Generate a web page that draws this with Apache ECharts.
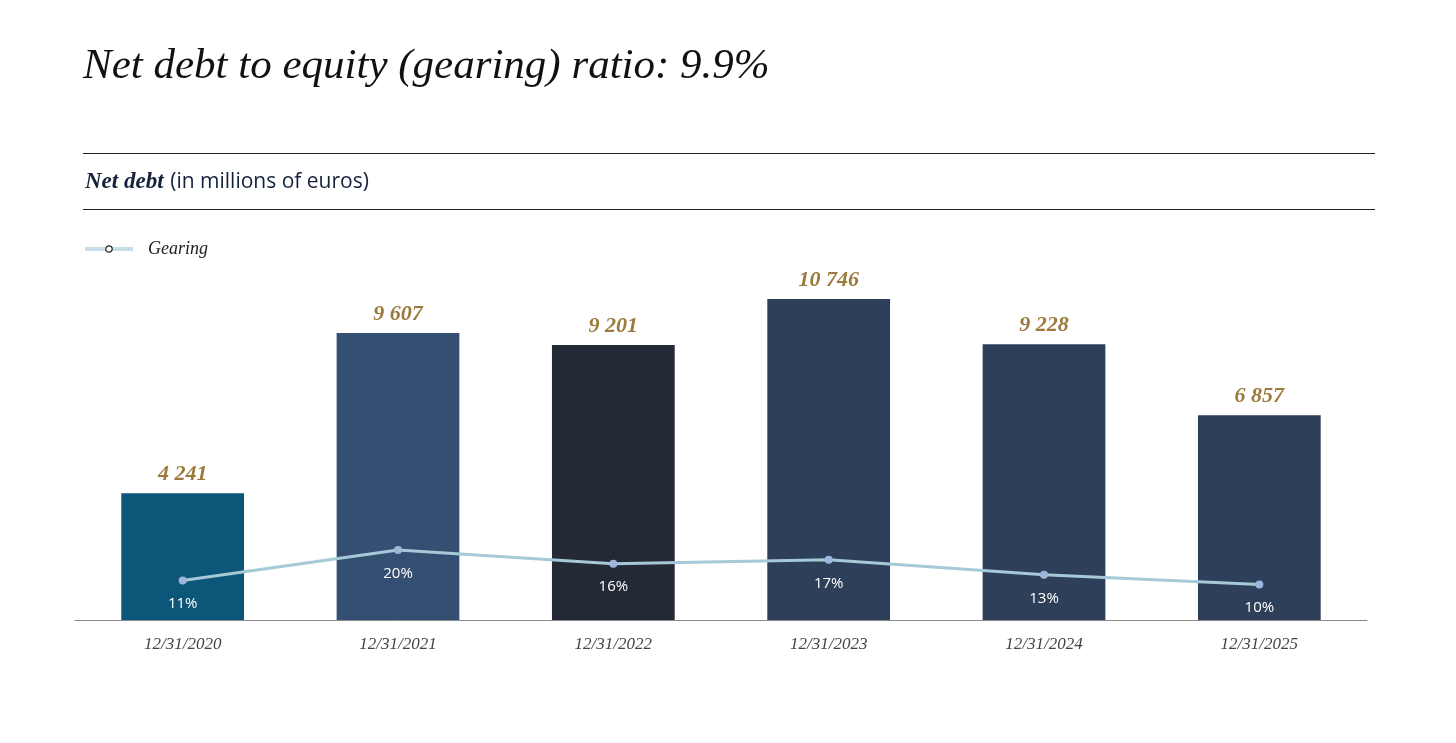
<!DOCTYPE html>
<html>
<head>
<meta charset="utf-8">
<script src="https://cdn.jsdelivr.net/npm/echarts@6/dist/echarts.min.js"></script>
<style>
  html, body { margin: 0; padding: 0; background: #fff; }
  #chart { width: 1456px; height: 743px; }
</style>
</head>
<body>
<div id="chart"></div>
<script>
// data
const dates = ['12/31/2020', '12/31/2021', '12/31/2022', '12/31/2023', '12/31/2024', '12/31/2025'];
const netDebt = [4241, 9607, 9201, 10746, 9228, 6857];
const gearing = [11.0, 19.5, 15.7, 16.8, 12.6, 9.9];

const barColors = ['#0b5679', '#354f72', '#232a36', '#2e4059', '#2e4059', '#2e4059'];
const serif = '"Liberation Serif", "DejaVu Serif", serif';
const sans = '"Open Sans", "Noto Sans", sans-serif';

function spaced(v) {
  return String(v).replace(/\B(?=(\d{3})+(?!\d))/g, ' ');
}

let chart = echarts.init(document.getElementById('chart'));
let option = {
  backgroundColor: '#fff',
  animation: false,
  graphic: [
    {
      type: 'text', left: 83, top: 45,
      style: {text: 'Net debt to equity (gearing) ratio: 9.9%', font: 'italic 43px ' + serif, fill: '#111'}
    },
    {type: 'line', shape: {x1: 83, y1: 153.5, x2: 1375, y2: 153.5}, style: {stroke: '#222', lineWidth: 1}},
    {type: 'line', shape: {x1: 83, y1: 209.5, x2: 1375, y2: 209.5}, style: {stroke: '#222', lineWidth: 1}},
    {
      type: 'text', left: 85, top: 171,
      style: {
        text: '{b|Net debt}  {n|(in millions of euros)}',
        rich: {
          b: {fontFamily: serif, fontStyle: 'italic', fontWeight: 'bold', fontSize: 23, fill: '#14233c'},
          n: {fontFamily: sans, fontSize: 21, fill: '#14233c'}
        }
      }
    }
  ],
  legend: {
    left: 83, top: 240, padding: 0,
    itemWidth: 48, itemHeight: 8,
    data: [{
      name: 'Gearing',
      itemStyle: {color: '#fff', borderColor: '#222', borderWidth: 1.2},
      lineStyle: {color: '#c6dfe6', width: 4}
    }],
    textStyle: {fontFamily: serif, fontStyle: 'italic', fontSize: 18, color: '#222', padding: [0, 0, 0, 10]}
  },
  grid: {left: 75, right: 89, top: 261.5, bottom: 123},
  xAxis: {
    type: 'category',
    data: dates,
    axisLine: {lineStyle: {color: '#888', width: 1}},
    axisTick: {show: false},
    axisLabel: {margin: 16, fontFamily: serif, fontStyle: 'italic', fontSize: 17, color: '#444'}
  },
  yAxis: [
    {type: 'value', min: 0, max: 12000, show: false, splitLine: {show: false}},
    {type: 'value', min: 0, max: 100, show: false, splitLine: {show: false}}
  ],
  series: [
    {
      name: 'Net debt',
      type: 'bar',
      barWidth: '57%',
      data: netDebt.map((v, i) => ({value: v, itemStyle: {color: barColors[i]}})),
      label: {
        show: true, position: 'top', distance: 8,
        formatter: p => spaced(p.value),
        fontFamily: serif, fontStyle: 'italic', fontWeight: 'bold', fontSize: 22, color: '#9c7a3c'
      }
    },
    {
      name: 'Gearing',
      type: 'line',
      yAxisIndex: 1,
      data: gearing,
      symbol: 'circle',
      symbolSize: 8,
      lineStyle: {color: '#a5c9d6', width: 3},
      itemStyle: {color: '#9fb6dc'},
      label: {
        show: true, position: 'bottom', distance: 12,
        formatter: p => Math.round(p.value) + '%',
        fontFamily: sans, fontSize: 15, color: '#fff'
      }
    }
  ]
};
chart.setOption(option);
</script>
</body>
</html>
